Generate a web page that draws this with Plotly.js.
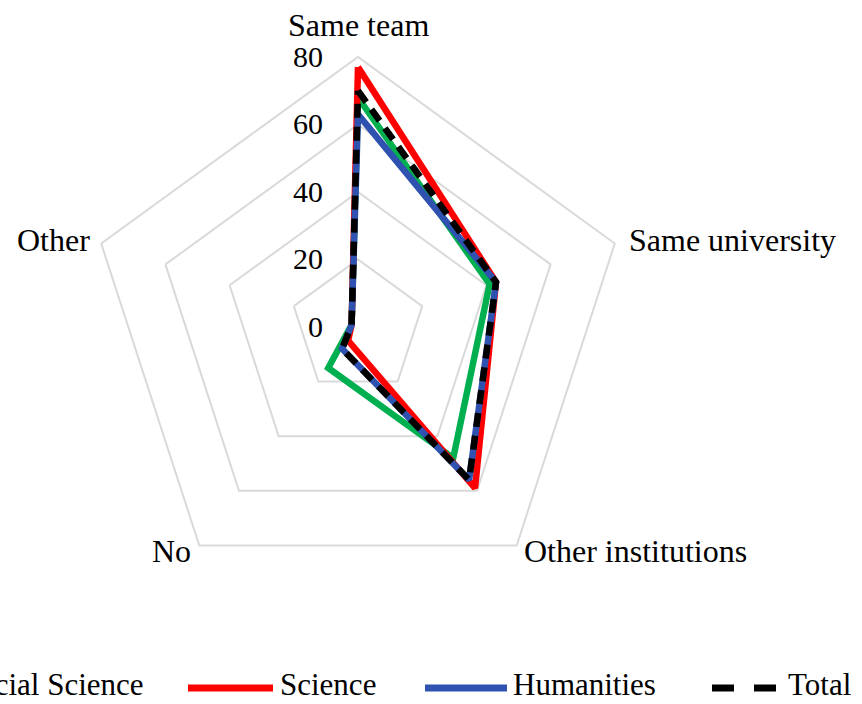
<!DOCTYPE html>
<html><head><meta charset="utf-8">
<script src="https://cdn.plot.ly/plotly-3.0.1.min.js"></script>
<style>html,body{margin:0;padding:0;background:#fff}#chart{width:862px;height:704px}</style>
</head><body><div id="chart"></div>
<script>
// ---- data ----
const categories = ["Same team", "Same university", "Other institutions", "No", "Other"];
const seriesNames = ["Social Science", "Science", "Humanities", "Total"];
const socialScience = [68, 41, 48, 15, 2];
const science = [77, 43, 59, 5, 2];
const humanities = [63, 43, 56, 8, 2];
const total = [70, 43, 56, 8, 2];
const radialTickValues = [0, 20, 40, 60, 80];
const radialTickLabels = ["0", "20", "40", "60", "80"];

// ---- style ----
const seriesValues = [socialScience, science, humanities, total];
const seriesColors = ["#00b050", "#ff0000", "#2f52b0", "#000000"];
const seriesDash = ["solid", "solid", "solid", "14px,9px"];
const FONT = "Liberation Serif, Times New Roman, serif";
const W = 862, H = 704;

const close = a => a.concat([a[0]]);
const traces = seriesNames.map((name, i) => ({
  type: "scatterpolar",
  mode: "lines",
  name: name,
  r: close(seriesValues[i]),
  theta: close(categories),
  line: {color: seriesColors[i], width: 6.5, dash: seriesDash[i]},
  showlegend: false,
  hoverinfo: "skip"
}));

// category labels placed around the pentagon (pixel anchors)
const catLabelPos = [
  {x: 358, y: 45, xa: "center", ya: "bottom"},
  {x: 627, y: 240, xa: "left", ya: "middle"},
  {x: 522, y: 551, xa: "left", ya: "middle"},
  {x: 193, y: 551, xa: "right", ya: "middle"},
  {x: 92, y: 240, xa: "right", ya: "middle"}
];
const annotations = categories.map((c, i) => ({
  xref: "paper", yref: "paper",
  x: catLabelPos[i].x / W, y: 1 - catLabelPos[i].y / H,
  xanchor: catLabelPos[i].xa, yanchor: catLabelPos[i].ya,
  showarrow: false, text: c,
  font: {family: FONT, size: 32, color: "#000"}
}));

// custom legend (long line samples like the original)
const legendLine = [[-128, -45], [188, 273], [425, 507], [712, 780]];
const legendText = [{x: 146, a: "right"}, {x: 278, a: "left"}, {x: 511, a: "left"}, {x: 786, a: "left"}];
const legendY = 688;
const shapes = [];
seriesNames.forEach((name, i) => {
  shapes.push({
    type: "line", xref: "paper", yref: "paper",
    x0: legendLine[i][0] / W, x1: legendLine[i][1] / W,
    y0: 1 - legendY / H, y1: 1 - legendY / H,
    line: {color: seriesColors[i], width: 7, dash: i === 3 ? "22px,20px" : "solid"}
  });
  annotations.push({
    xref: "paper", yref: "paper", x: legendText[i].x / W, y: 1 - 704 / H,
    xanchor: legendText[i].a, yanchor: "bottom", showarrow: false,
    text: name, font: {family: FONT, size: 31, color: "#000"}
  });
});

// pad radial labels so they sit left of the axis, as in the original
const radialTickText = radialTickLabels.map(t => t + "\u00a0\u00a0\u00a0\u00a0");

const layout = {
  width: W, height: H,
  margin: {l: 0, r: 0, t: 0, b: 0, autoexpand: false},
  paper_bgcolor: "#fff",
  showlegend: false,
  font: {family: FONT, color: "#000"},
  polar: {
    domain: {x: [88 / W, 628 / W], y: [(H - 597) / H, (H - 57) / H]},
    bgcolor: "rgba(0,0,0,0)",
    gridshape: "linear",
    angularaxis: {
      rotation: 90, direction: "clockwise",
      showgrid: false, showline: true, linecolor: "#d9d9d9", linewidth: 2,
      ticks: "", showticklabels: false
    },
    radialaxis: {
      range: [0, 80], angle: 90, side: "counterclockwise", tickangle: 90,
      tickvals: radialTickValues, ticktext: radialTickText,
      showline: false, showgrid: true, gridcolor: "#d9d9d9", gridwidth: 2,
      ticks: "", tickfont: {family: FONT, size: 30, color: "#000"}
    }
  },
  shapes: shapes,
  annotations: annotations
};

Plotly.newPlot("chart", traces, layout, {displayModeBar: false, staticPlot: true});
</script></body></html>
